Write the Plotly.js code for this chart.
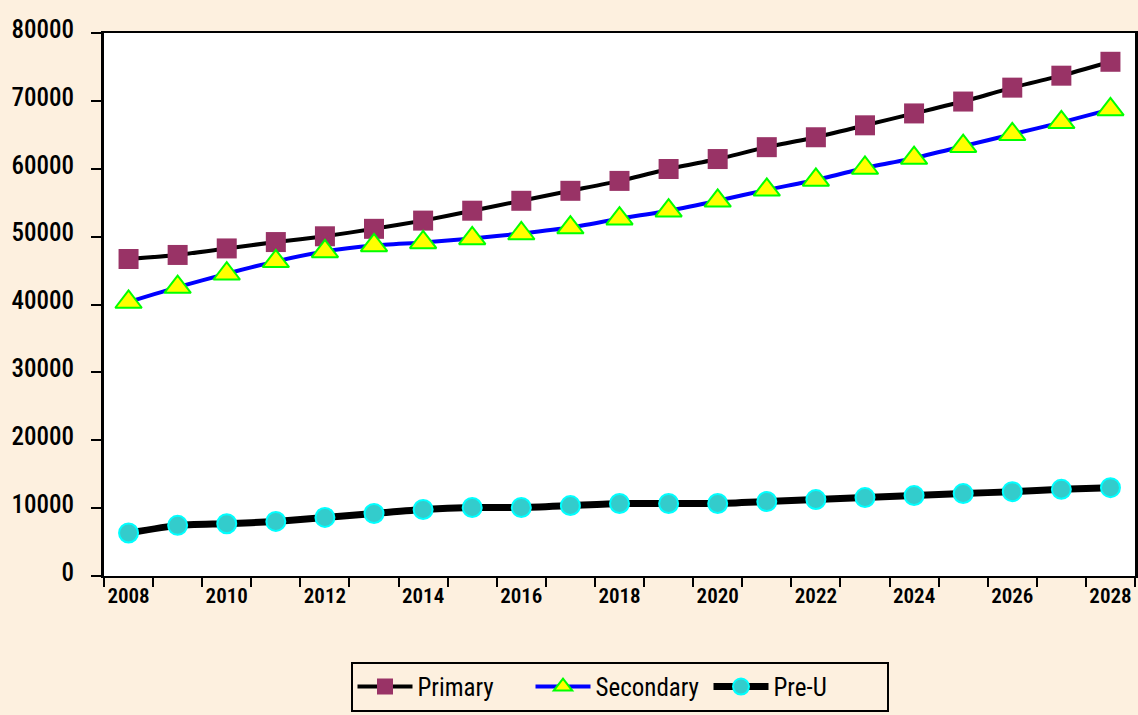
<!DOCTYPE html>
<html>
<head>
<meta charset="utf-8">
<script src="https://cdn.plot.ly/plotly-3.0.1.min.js"></script>
<style>
html,body{margin:0;padding:0;background:#FDF0DF;}
#chart{width:1138px;height:715px;}
</style>
</head>
<body>
<div id="chart"></div>
<script>
const years = [2008,2009,2010,2011,2012,2013,2014,2015,2016,2017,2018,2019,2020,2021,2022,2023,2024,2025,2026,2027,2028];
const primary = [46700,47300,48260,49200,50050,51150,52360,53820,55280,56750,58210,59960,61430,63180,64640,66400,68150,69900,71950,73710,75760];
const secondary = [40370,42560,44530,46360,47820,48700,49140,49730,50460,51330,52650,53820,55280,56890,58350,60110,61570,63330,65080,66840,68740];
const preU = [6330,7460,7700,8040,8630,9210,9800,10090,10090,10380,10680,10680,10680,10970,11260,11550,11850,12140,12430,12770,13020];
const xTickVals = [2008,2010,2012,2014,2016,2018,2020,2022,2024,2026,2028];
const yTickVals = [0,10000,20000,30000,40000,50000,60000,70000,80000];

const FONT = "'Roboto Condensed', Roboto, 'Liberation Sans', sans-serif";

const traces = [
  {x: years, y: primary, name: 'Primary', type: 'scatter', mode: 'lines+markers',
   line: {color: '#000000', width: 4, shape: 'spline', smoothing: 0.5},
   marker: {symbol: 'square', size: 20, color: '#993366', line: {color: '#993366', width: 0}}},
  {x: years, y: secondary, name: 'Secondary', type: 'scatter', mode: 'lines+markers',
   line: {color: '#0000FF', width: 4, shape: 'spline', smoothing: 0.5},
   marker: {symbol: 'triangle-up', size: 23, color: '#FFFF00', line: {color: '#00FF00', width: 2}}},
  {x: years, y: preU, name: 'Pre-U', type: 'scatter', mode: 'lines+markers',
   line: {color: '#000000', width: 7, shape: 'spline', smoothing: 0.5},
   marker: {symbol: 'circle', size: 19, color: '#33CCCC', line: {color: '#00FFFF', width: 2}}}
];

const layout = {
  width: 1138, height: 715,
  paper_bgcolor: '#FDF0DF',
  plot_bgcolor: '#FFFFFF',
  margin: {l: 104, r: 3, t: 33, b: 135},
  font: {family: FONT, color: '#000000'},
  showlegend: true,
  legend: {
    orientation: 'h', x: 0.5, xanchor: 'center', y: -0.158, yanchor: 'top',
    bgcolor: '#FDF0DF', bordercolor: '#000000', borderwidth: 2,
    font: {family: FONT, size: 25, color: '#000000'},
    itemwidth: 55, entrywidth: 108, entrywidthmode: 'pixels', traceorder: 'normal'
  },
  xaxis: {
    range: [2007.5, 2028.5],
    tickmode: 'array', tickvals: xTickVals, ticktext: xTickVals.map(String),
    ticks: '', showgrid: false, zeroline: false,
    showline: true, linecolor: '#000000', linewidth: 2, mirror: true,
    tickfont: {family: FONT, size: 21, weight: 600, color: '#000000'},
    minor: {tickmode: 'linear', tick0: 2007.5, dtick: 1, ticks: 'outside', ticklen: 9, tickwidth: 2, tickcolor: '#000000', showgrid: false}
  },
  yaxis: {
    range: [0, 80000],
    tickmode: 'array', tickvals: yTickVals, ticktext: yTickVals.map(String),
    ticks: 'outside', ticklen: 10, tickwidth: 2, tickcolor: '#000000',
    ticklabelstandoff: 12, ticklabelshift: -4,
    showgrid: false, zeroline: false,
    showline: true, linecolor: '#000000', linewidth: 3, mirror: true,
    tickfont: {family: FONT, size: 25, weight: 500, color: '#000000'}
  }
};

Plotly.newPlot('chart', traces, layout, {displayModeBar: false});
</script>
</body>
</html>
